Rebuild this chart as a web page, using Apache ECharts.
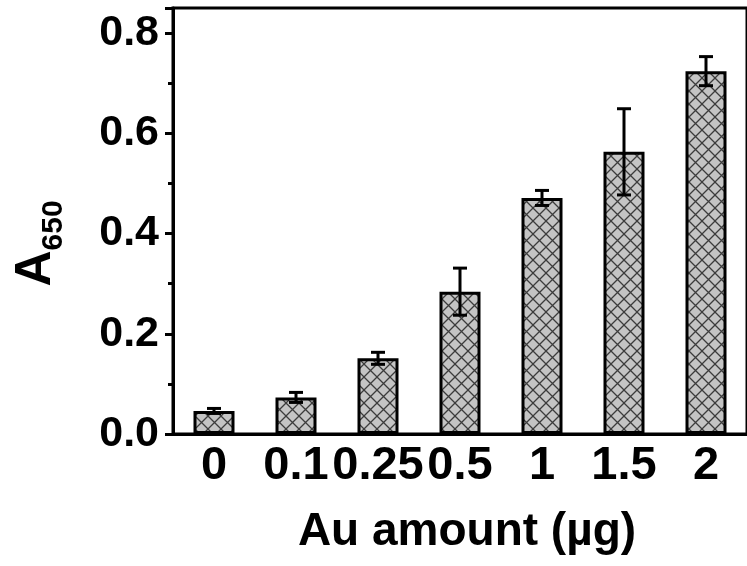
<!DOCTYPE html>
<html>
<head>
<meta charset="utf-8">
<script src="https://cdn.jsdelivr.net/npm/echarts@6/dist/echarts.min.js"></script>
<style>
  html, body { margin: 0; padding: 0; background: #fff; }
  #chart { width: 747px; height: 566px; }
</style>
</head>
<body>
<div id="chart"></div>
<script>
  // Au amount categories (µg)
  let categories = ['0', '0.1', '0.25', '0.5', '1', '1.5', '2']
  // mean A650 and error bar half-widths
  let means = [0.046, 0.073, 0.151, 0.284, 0.471, 0.563, 0.724]
  let errors = [0.005, 0.010, 0.012, 0.047, 0.015, 0.086, 0.029]
  let yTicks = [0, 0.2, 0.4, 0.6, 0.8]

  let fontFamily = 'Liberation Sans, Arial, sans-serif'

  // cross hatch fill for bars
  function makeHatch() {
    let size = 13
    let c = document.createElement('canvas')
    c.width = size
    c.height = size
    let ctx = c.getContext('2d')
    ctx.fillStyle = '#c4c4c4'
    ctx.fillRect(0, 0, size, size)
    ctx.strokeStyle = '#3c3c3c'
    ctx.lineWidth = 1.3
    ctx.beginPath()
    ctx.moveTo(0, 0); ctx.lineTo(size, size)
    ctx.moveTo(size, 0); ctx.lineTo(0, size)
    ctx.stroke()
    return c
  }

  let errData = categories.map(function (c, i) {
    return [i, means[i] - errors[i], means[i] + errors[i]]
  })

  let chart = echarts.init(document.getElementById('chart'))

  let option = {
    animation: false,
    grid: {
      show: true,
      left: 173,
      top: 8,
      width: 581,
      height: 426,
      borderColor: '#000',
      borderWidth: 3,
      backgroundColor: 'transparent'
    },
    xAxis: {
      type: 'category',
      data: categories,
      name: 'Au amount (µg)',
      nameLocation: 'middle',
      nameGap: 75,
      nameTextStyle: { fontFamily: fontFamily, fontWeight: 'bold', fontSize: 46, color: '#000', padding: [0, 0, 0, 14] },
      axisLine: { lineStyle: { color: '#000', width: 3 } },
      axisTick: { alignWithLabel: true, length: 8, lineStyle: { color: '#000', width: 3 } },
      axisLabel: { interval: 0, margin: 9, fontFamily: fontFamily, fontWeight: 'bold', fontSize: 47, color: '#000' },
      splitLine: { show: false }
    },
    yAxis: {
      type: 'value',
      min: 0,
      max: 0.85,
      interval: 0.2,
      name: '{a|A}{s|650}',
      nameLocation: 'middle',
      nameRotate: 90,
      nameGap: 112,
      nameTextStyle: {
        padding: [0, 0, 0, -45],
        rich: {
          a: { fontFamily: fontFamily, fontWeight: 'bold', fontSize: 50, color: '#000', verticalAlign: 'bottom' },
          s: { fontFamily: fontFamily, fontWeight: 'bold', fontSize: 30, color: '#000', verticalAlign: 'bottom', padding: [0, 0, -8, 0] }
        }
      },
      axisLine: { show: true, lineStyle: { color: '#000', width: 3 } },
      axisTick: { show: true, length: 8, lineStyle: { color: '#000', width: 3 } },
      minorTick: { show: true, splitNumber: 2, length: 5, lineStyle: { color: '#000', width: 3 } },
      axisLabel: {
        margin: 14,
        showMaxLabel: false,
        fontFamily: fontFamily, fontWeight: 'bold', fontSize: 43, color: '#000',
        formatter: function (v) {
          return yTicks.indexOf(Math.round(v * 10) / 10) >= 0 ? v.toFixed(1) : ''
        }
      },
      splitLine: { show: false }
    },
    series: [
      {
        type: 'bar',
        data: means,
        barWidth: '50%',
        itemStyle: {
          color: { image: makeHatch(), repeat: 'repeat' },
          borderColor: '#000',
          borderWidth: 3
        }
      },
      {
        type: 'custom',
        data: errData,
        z: 5,
        renderItem: function (params, api) {
          let x = api.value(0)
          let lo = api.coord([x, api.value(1)])
          let hi = api.coord([x, api.value(2)])
          let cap = 7
          let style = { stroke: '#000', lineWidth: 3 }
          return {
            type: 'group',
            children: [
              { type: 'line', shape: { x1: lo[0], y1: lo[1], x2: hi[0], y2: hi[1] }, style: style },
              { type: 'line', shape: { x1: hi[0] - cap, y1: hi[1], x2: hi[0] + cap, y2: hi[1] }, style: style },
              { type: 'line', shape: { x1: lo[0] - cap, y1: lo[1], x2: lo[0] + cap, y2: lo[1] }, style: style }
            ]
          }
        }
      }
    ]
  }

  chart.setOption(option)
</script>
</body>
</html>
